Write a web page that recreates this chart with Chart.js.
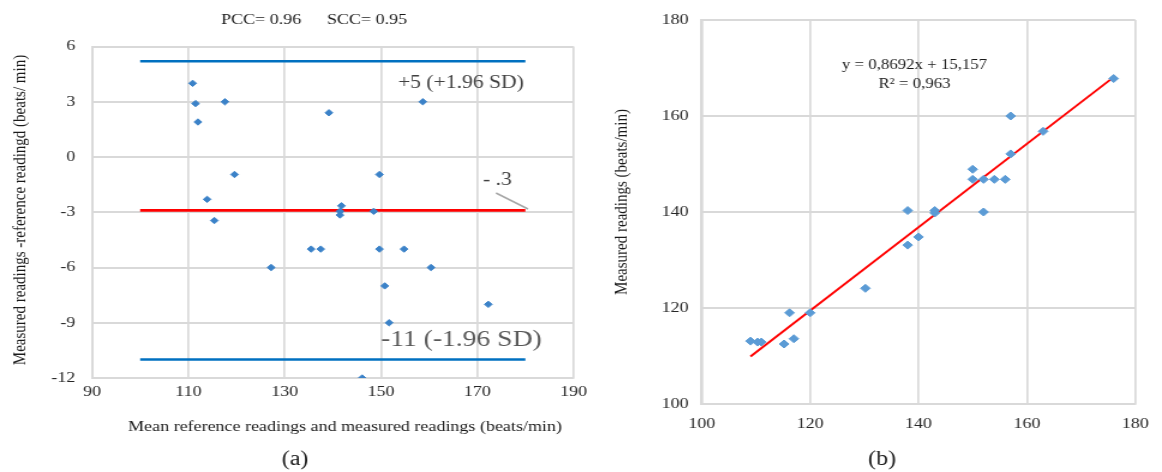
<!DOCTYPE html>
<html>
<head>
<meta charset="utf-8">
<script src="https://cdn.jsdelivr.net/npm/chart.js@4.4.1/dist/chart.umd.min.js"></script>
<style>
  html, body { margin: 0; background: #fff; }
  #wrap { position: relative; width: 1162px; height: 472px; overflow: hidden; }
  canvas { position: absolute; top: 0; transform-origin: 0 0; transform: scaleX(1.2); }
  #ba { left: 0; }
  #reg { left: 580px; }
</style>
</head>
<body>
<div id="wrap">
  <canvas id="ba" width="500" height="472"></canvas>
  <canvas id="reg" width="485" height="472"></canvas>
</div>
<script>
/* Two panels: (a) Bland-Altman, (b) measured vs reference with linear fit.
   The source figure is stretched sideways, so each canvas is scaled by SX. */
const SX = 1.2;
const $ = (id) => document.getElementById(id);

/* ---------- (a) data ---------- */
const baMean = [110.9, 111.5, 112.0, 117.6, 139.2, 158.7, 119.6, 149.7, 113.9, 115.4,
                141.8, 141.5, 141.5, 148.5, 135.5, 137.5, 149.7, 154.8, 127.2, 160.4,
                150.8, 172.3, 151.7, 146.1];
const baDiff = [4.0, 2.9, 1.9, 3.0, 2.4, 3.0, -0.95, -0.95, -2.3, -3.45,
                -2.65, -2.95, -3.15, -2.95, -5, -5, -5, -5, -6, -6,
                -7, -8, -9, -12];
const limitX = [100, 180];
const upperLoA = 5.2;
const meanBias = -2.9;
const lowerLoA = -11;
const aTicksX = [90, 110, 130, 150, 170, 190];
const aTicksY = [-12, -9, -6, -3, 0, 3, 6];

/* ---------- (b) data ---------- */
const refX = [109, 110.3, 111, 115.2, 117, 116.2, 120, 130.2, 138, 138,
              140, 143, 143, 150, 150, 152, 152, 154, 156, 157,
              157, 163, 176];
const measY = [113.1, 112.9, 112.9, 112.5, 113.6, 119, 119, 124.1, 140.3, 133.1,
               134.8, 140.3, 139.8, 148.9, 146.8, 146.8, 140, 146.8, 146.8, 160,
               152.1, 156.8, 167.8];
const fitX = [109, 176];
const fitY = [109.9, 168.1];
const bTicks = [100, 120, 140, 160, 180];

const SERIF = '"Liberation Serif", "Times New Roman", serif';
const GRID = "#d9d9d9";

/* free text + leader lines, positions in canvas pixels */
const textPlugin = {
  id: "texts",
  afterDraw(chart, args, opts) {
    const ctx = chart.ctx;
    (opts.lines || []).forEach((l) => {
      ctx.save();
      ctx.strokeStyle = l.color; ctx.lineWidth = l.width;
      ctx.beginPath(); ctx.moveTo(l.x1, l.y1); ctx.lineTo(l.x2, l.y2); ctx.stroke();
      ctx.restore();
    });
    (opts.items || []).forEach((t) => {
      ctx.save();
      ctx.font = `${t.size}px ${SERIF}`;
      ctx.fillStyle = t.color || "#1a1a1a";
      ctx.textAlign = t.align || "center";
      ctx.textBaseline = "middle";
      ctx.translate(t.x, t.y);
      if (t.rot) ctx.rotate(t.rot);
      ctx.fillText(t.text, 0, 0);
      ctx.restore();
    });
  },
};

const pts = (xs, ys) => xs.map((x, i) => ({ x, y: ys[i] }));
const hline = (y) => limitX.map((x) => ({ x, y }));

function axis(ticks, opts) {
  return {
    type: "linear",
    min: ticks[0], max: ticks[ticks.length - 1],
    afterBuildTicks: (s) => { s.ticks = ticks.map((v) => ({ value: v })); },
    grid: { color: GRID, lineWidth: opts.gridWidth, drawTicks: false },
    border: { display: true, color: GRID, width: opts.gridWidth },
    ticks: { color: "#262626", padding: opts.pad, font: { family: SERIF, size: opts.size } },
    afterFit: opts.fit,
  };
}

/* ---------- (a) Bland-Altman ---------- */
const ax = (px) => px / SX;
new Chart($("ba"), {
  type: "scatter",
  data: {
    datasets: [
      { data: pts(baMean, baDiff), pointStyle: "rectRot", pointRadius: 3.2, borderWidth: 1,
        backgroundColor: "#3b82c8", borderColor: "#3b82c8", order: 0 },
      { data: hline(upperLoA), showLine: true, borderColor: "#0070c0", borderWidth: 2.5, pointRadius: 0, order: 1 },
      { data: hline(meanBias), showLine: true, borderColor: "#ff0000", borderWidth: 2.8, pointRadius: 0, order: 1 },
      { data: hline(lowerLoA), showLine: true, borderColor: "#0070c0", borderWidth: 2.5, pointRadius: 0, order: 1 },
    ],
  },
  options: {
    responsive: false, animation: false,
    layout: { padding: { top: 46.5, right: 500 - ax(573.5), bottom: 0, left: 0 } },
    scales: {
      x: axis(aTicksX, { gridWidth: 1.7, pad: 5, size: 15, fit: (s) => { s.height = 94; } }),
      y: axis(aTicksY, { gridWidth: 2, pad: 14, size: 15, fit: (s) => { s.width = ax(92); } }),
    },
    plugins: {
      legend: { display: false }, tooltip: { enabled: false },
      texts: {
        lines: [{ x1: ax(496), y1: 193, x2: ax(528), y2: 209, color: "#a6a6a6", width: 1.5 }],
        items: [
          { text: "PCC= 0.96", x: ax(221), y: 20, size: 15, align: "left" },
          { text: "SCC= 0.95", x: ax(327), y: 20, size: 15, align: "left" },
          { text: "Measured readings -reference readingd (beats/ min)", x: ax(20), y: 210, size: 15, rot: -Math.PI / 2 },
          { text: "Mean reference readings and measured readings (beats/min)", x: ax(345), y: 427, size: 15 },
          { text: "(a)", x: ax(295), y: 460, size: 20 },
          { text: "+5 (+1.96 SD)", x: ax(398), y: 83, size: 18, align: "left", color: "#404040" },
          { text: "- .3", x: ax(483), y: 180, size: 18, align: "left", color: "#404040" },
          { text: "-11 (-1.96 SD)", x: ax(381), y: 340, size: 23, align: "left", color: "#595959" },
        ],
      },
    },
  },
  plugins: [textPlugin],
});

/* ---------- (b) regression ---------- */
const bx = (px) => (px - 580) / SX;
new Chart($("reg"), {
  type: "scatter",
  data: {
    datasets: [
      { data: pts(refX, measY), pointStyle: "rectRot", pointRadius: 4, borderWidth: 1,
        backgroundColor: "#5b9bd5", borderColor: "#5b9bd5", order: 0 },
      { data: pts(fitX, fitY), showLine: true, borderColor: "#ff0000", borderWidth: 2, pointRadius: 0, order: 1 },
    ],
  },
  options: {
    responsive: false, animation: false,
    layout: { padding: { top: 16.3, right: 485 - bx(1140.5), bottom: 0, left: 0 } },
    scales: {
      x: axis(bTicks, { gridWidth: 1.7, pad: 11, size: 15, fit: (s) => { s.height = 68; } }),
      y: axis(bTicks, { gridWidth: 2, pad: 11, size: 15, fit: (s) => { s.width = bx(701.7); } }),
    },
    plugins: {
      legend: { display: false }, tooltip: { enabled: false },
      texts: {
        items: [
          { text: "y = 0,8692x + 15,157", x: bx(914.5), y: 65, size: 14 },
          { text: "R² = 0,963", x: bx(914.5), y: 84, size: 14 },
          { text: "Measured readings (beats/min)", x: bx(622), y: 202, size: 15, rot: -Math.PI / 2 },
          { text: "(b)", x: bx(882), y: 460, size: 20 },
        ],
      },
    },
  },
  plugins: [textPlugin],
});
</script>
</body>
</html>
